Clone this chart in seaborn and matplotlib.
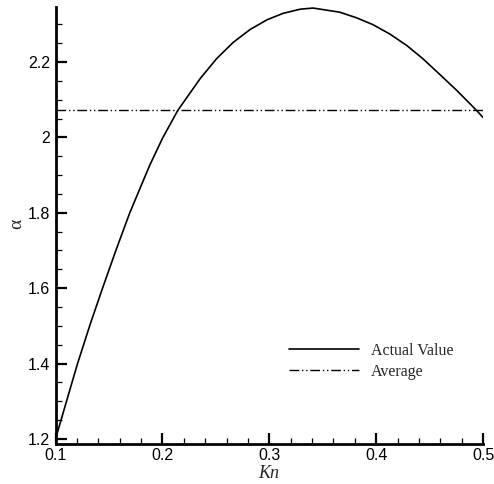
import matplotlib
matplotlib.use("Agg")
import matplotlib.pyplot as plt
from matplotlib.ticker import MultipleLocator, FuncFormatter
import seaborn as sns
import pandas as pd

# ---- data ----
kn = [0.100, 0.1105, 0.1204, 0.1323, 0.144, 0.1566, 0.1695, 0.188, 0.200,
      0.2143, 0.2354, 0.2508, 0.2663, 0.282, 0.298, 0.313, 0.329, 0.341,
      0.366, 0.3818, 0.397, 0.4129, 0.429, 0.444, 0.4603, 0.4753, 0.4938,
      0.500]
alpha = [1.200, 1.302, 1.398, 1.503, 1.600, 1.701, 1.800, 1.925, 1.997,
         2.071, 2.156, 2.209, 2.252, 2.286, 2.312, 2.329, 2.340, 2.343,
         2.332, 2.317, 2.299, 2.274, 2.243, 2.208, 2.165, 2.125, 2.072,
         2.053]
avg_value = 2.072
series_names = ["Actual Value", "Average"]
x_ticks = [0.1, 0.2, 0.3, 0.4, 0.5]
y_ticks = [1.2, 1.4, 1.6, 1.8, 2.0, 2.2]

sns.set_style("ticks")
plt.rcParams["font.family"] = ["Liberation Sans", "DejaVu Sans"]

fig = plt.figure(figsize=(4.94, 4.84), dpi=100)
W, H = 494, 484
x0, x1 = 55.5, 483.0
y_top, y_bot = 7.3, 444.3
ax = fig.add_axes([x0 / W, 1 - y_bot / H, (x1 - x0) / W, (y_bot - y_top) / H])

actual_df = pd.DataFrame({"Kn": kn, "alpha": alpha})
avg_df = pd.DataFrame({"Kn": [kn[0], kn[-1]], "alpha": [avg_value, avg_value]})

sns.lineplot(data=actual_df, x="Kn", y="alpha", ax=ax, sort=False,
             color="black", lw=1.2, label=series_names[0])
sns.lineplot(data=avg_df, x="Kn", y="alpha", ax=ax, sort=False,
             color="black", lw=1.0, label=series_names[1])
ax.lines[0].set_solid_joinstyle("round")
ax.lines[1].set_dashes([7, 2.0, 1.0, 2.0, 1.0, 2.0])

ax.set_xlim(0.1, 0.5)
ax.set_ylim(1.186, 2.345)
ax.set_xticks(x_ticks)
ax.set_yticks(y_ticks)
ax.xaxis.set_minor_locator(MultipleLocator(0.02))
ax.yaxis.set_minor_locator(MultipleLocator(0.05))
fmt = FuncFormatter(lambda v, p: f"{v:g}")
ax.xaxis.set_major_formatter(fmt)
ax.yaxis.set_major_formatter(fmt)

for s in ["top", "right"]:
    ax.spines[s].set_visible(False)
for s in ["left", "bottom"]:
    ax.spines[s].set_linewidth(2.0)
    ax.spines[s].set_color("black")

ax.tick_params(which="major", direction="in", length=8, width=1.6,
               labelsize=11.5, color="black", labelcolor="black")
ax.tick_params(which="minor", direction="in", length=4.5, width=0.9,
               color="black")
ax.tick_params(axis="y", which="major", pad=4)
ax.tick_params(axis="x", which="major", pad=3)

ax.set_xlabel("Kn", fontsize=13, fontstyle="italic",
              family=["Liberation Serif", "DejaVu Serif"])
ax.xaxis.label.set_va("center")
ax.xaxis.set_label_coords((269 - x0) / (x1 - x0), -(473 - y_bot) / (y_bot - y_top))
ax.set_ylabel("α", fontsize=14, family=["Liberation Serif", "DejaVu Serif"])
ax.yaxis.label.set_va("center")
ax.yaxis.set_label_coords(-(x0 - 17) / (x1 - x0), (y_bot - 224) / (y_bot - y_top))

leg = ax.legend(loc="upper left", bbox_to_anchor=(289 / W, 1 - 343 / H),
                bbox_transform=fig.transFigure, frameon=False,
                prop={"family": "Liberation Serif", "size": 11.5},
                handlelength=4.4, handletextpad=0.75, borderpad=0,
                borderaxespad=0, labelspacing=0.3)

fig.savefig("out.png", dpi=100, facecolor="white")
